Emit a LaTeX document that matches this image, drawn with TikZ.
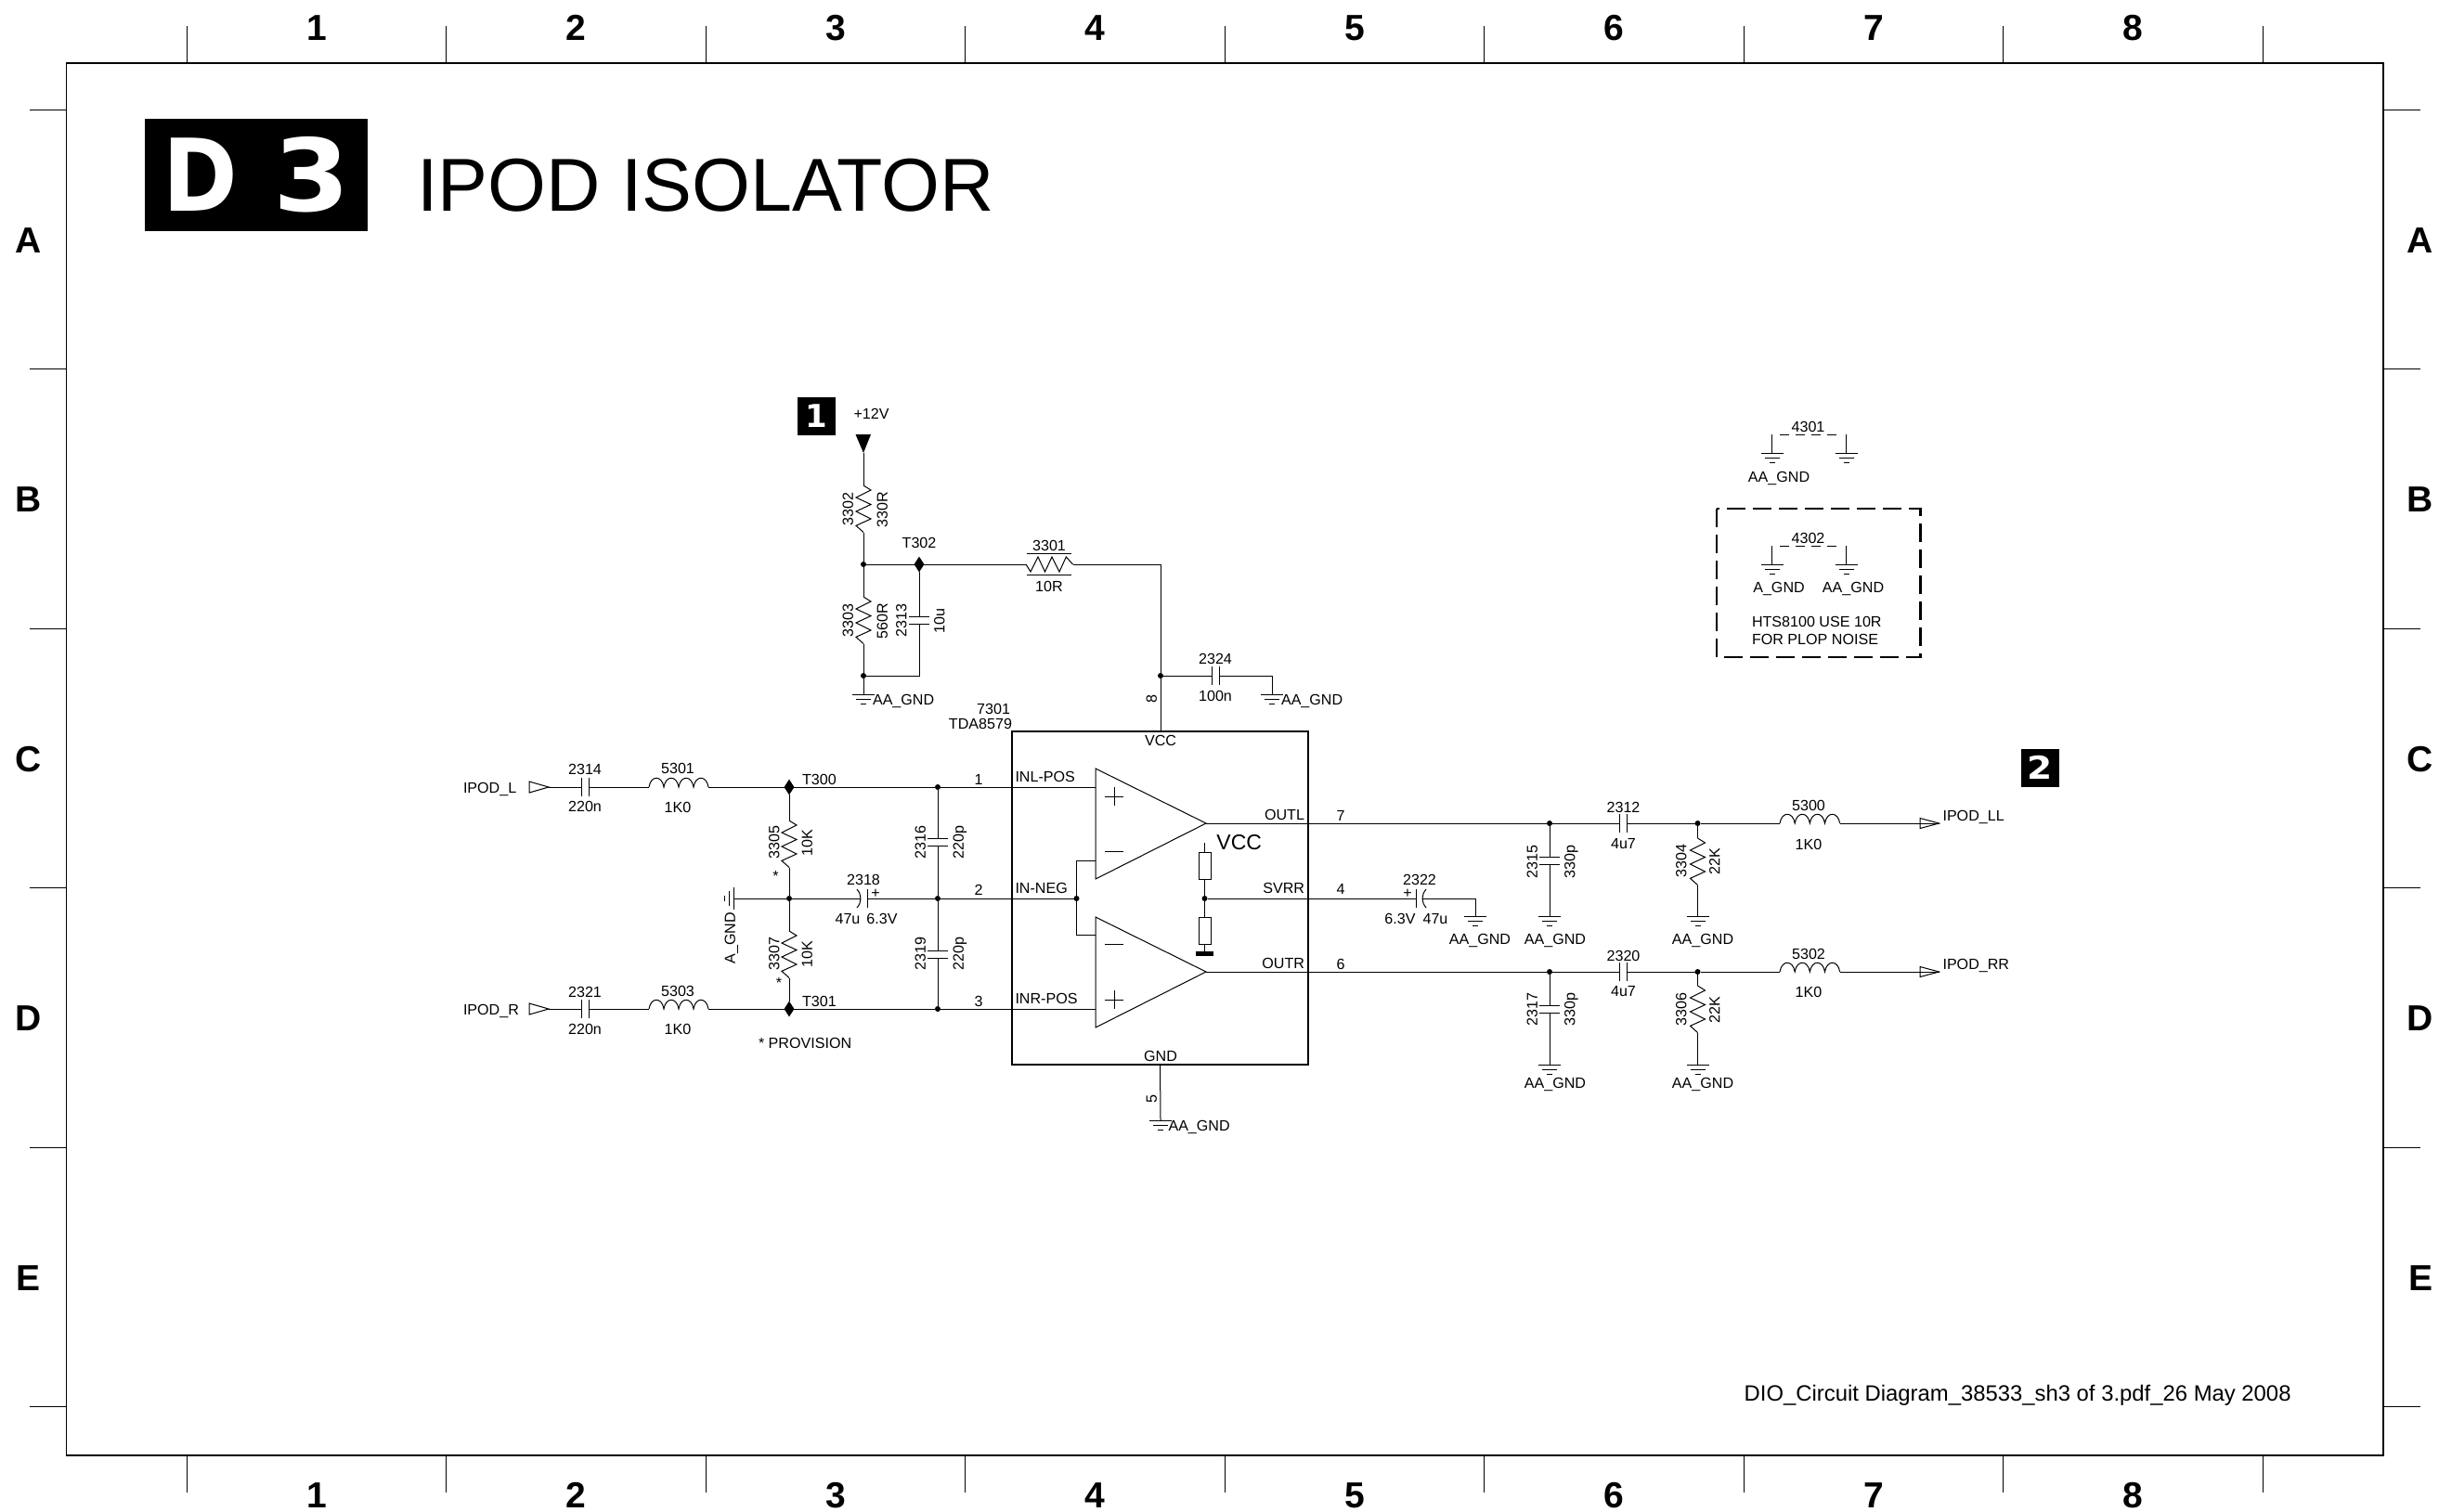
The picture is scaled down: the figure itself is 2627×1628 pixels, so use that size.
\documentclass[tikz,border=0pt]{standalone}
\usepackage{fontspec}
\setmainfont{Liberation Sans}
\newfontfamily\badgefont{DejaVu Sans}
\usetikzlibrary{shapes.geometric}
\newcommand\lab[5][]{\node[lbl,#1] (#2) at (#3,#4) {#5};}
\newcommand\dotat[3]{\node[jdot] (#1) at (#2,#3) {};}
\newcommand\diaat[3]{\node[jdia] (#1) at (#2,#3) {};}
\tikzset{
  wire/.style={line width=0.5pt,line join=miter},
  lbl/.style={inner sep=0pt,outer sep=0pt,yshift=-0.4pt,font=\fontsize{8.05}{9}\selectfont,text height=5.75pt,text depth=0pt,text=black},
  biglbl/.style={inner sep=0pt,outer sep=0pt,font=\bfseries\fontsize{19.5}{22}\selectfont,text height=14pt,text depth=0pt},
  jdot/.style={circle,fill=black,inner sep=0pt,minimum size=3pt,outer sep=0pt},
  jdia/.style={diamond,fill=black,inner sep=0pt,outer sep=0pt,aspect=1,minimum width=5.4pt,minimum height=8.4pt},
  zz/.pic={
    \coordinate (-a) at (0,0); \coordinate (-b) at (0,50.5);
    \draw[wire] (-a) -- ++(8,5) -- ++(-16,8) -- ++(16,7.5) -- ++(-16,7.5) -- ++(16,8) -- ++(-16,7.3) -- (-b);
  },
  capv/.pic={
    \coordinate (-a) at (0,-4); \coordinate (-b) at (0,4);
    \draw[wire] (-11,-4) -- (11,-4) (-11,4) -- (11,4);
  },
  caph/.pic={
    \coordinate (-a) at (-4,0); \coordinate (-b) at (4,0);
    \draw[wire] (-4,-10) -- (-4,10) (4,-10) -- (4,10);
  },
  elec/.pic={
    \coordinate (-a) at (-2,0); \coordinate (-b) at (5,0);
    \draw[wire] (-6,-10) .. controls (-0.7,-4) and (-0.7,4) .. (-6,10);
    \draw[wire] (5,-10) -- (5,10);
  },
  coil/.pic={
    \coordinate (-a) at (0,0); \coordinate (-b) at (64,0);
    \draw[wire] (-a) .. controls (2,-13) and (14,-13) .. (16,0)
      .. controls (18,-13) and (30,-13) .. (32,0)
      .. controls (34,-13) and (46,-13) .. (48,0)
      .. controls (50,-13) and (62,-13) .. (-b);
  },
  gnd/.pic={
    \coordinate (-a) at (0,0);
    \draw[wire] (-12,0) -- (12,0) (-8,5) -- (8,5) (-3,10) -- (3,10);
  },
  porti/.pic={
    \coordinate (-a) at (0,0); \coordinate (-b) at (21,0);
    \draw[wire] (0,-6) -- (21,0) -- (0,6) -- cycle;
  },
  porto/.pic={
    \coordinate (-a) at (0,0); \coordinate (-b) at (20.5,0);
    \draw[wire] (0,-5.5) -- (20.5,0) -- (0,5.5) -- cycle;
  },
}
\begin{document}
\begin{tikzpicture}[x=0.5pt,y=-0.5pt]
\useasboundingbox (0,0) rectangle (2627,1628);
\fill[white] (0,0) rectangle (2627,1628);

% frame
\draw[line width=0.9pt] (71.5,68) rectangle (2567,1568);
\foreach \k in {0,...,8}{
  \draw[wire] ({201+279.5*\k},28) -- ({201+279.5*\k},68);
  \draw[wire] ({201+279.5*\k},1568) -- ({201+279.5*\k},1608);
}
\foreach \k in {0,...,5}{
  \draw[wire] (31.5,{118+279.5*\k}) -- (71.5,{118+279.5*\k});
  \draw[wire] (2567,{118+279.5*\k}) -- (2607,{118+279.5*\k});
}
\foreach \n [count=\k from 0] in {1,...,8}{
  \node[biglbl] (top\n) at ({341+279.5*\k},29) {\n};
  \node[biglbl] (bot\n) at ({341+279.5*\k},1610) {\n};
}
\foreach \n [count=\k from 0] in {A,B,C,D,E}{
  \node[biglbl] (lft\n) at (31,{258+279.5*\k}) {\n};
  \node[biglbl] (rgt\n) at (2607,{258+279.5*\k}) {\n};
}

% title
\node[fill=black,inner sep=0pt,outer sep=0pt,minimum width=120pt,minimum height=60.5pt] (badge) at (276,188.5) {};
\node[inner sep=0pt,text=white,font=\badgefont\bfseries\fontsize{54}{60}\selectfont,text height=39.4pt,text depth=0pt] (badgeD) at (215.5,188.5) {\scalebox{0.9}[1]{D}};
\node[inner sep=0pt,text=white,font=\badgefont\bfseries\fontsize{54}{60}\selectfont,text height=39.4pt,text depth=0pt] (badgeT) at (336,188.5) {\scalebox{1.1}[1]{3}};
\node[anchor=base west,inner sep=0pt,font=\fontsize{40.4}{44}\selectfont] (title) at (449,227) {IPOD ISOLATOR};

% numbered boxes
\node[fill=black,inner sep=0pt,outer sep=0pt,minimum width=20.5pt,minimum height=20.5pt] (box1) at (879.5,448.5) {};
\node[inner sep=0pt,text=white,font=\badgefont\bfseries\fontsize{17}{20}\selectfont,text height=12.4pt,text depth=0pt] (box1t) at (879.5,448.5) {1};
\node[fill=black,inner sep=0pt,outer sep=0pt,minimum width=20.5pt,minimum height=20.5pt] (box2) at (2197.5,827.5) {};
\node[inner sep=0pt,text=white,font=\badgefont\bfseries\fontsize{17}{20}\selectfont,text height=12.4pt,text depth=0pt] (box2t) at (2197.5,827.5) {\scalebox{1.15}[1]{2}};

% chip
\node[draw,line width=1.25pt,inner sep=0pt,outer sep=0pt,minimum width=159.5pt,minimum height=179.5pt] (chip) at (1249.5,967.5) {};
\coordinate (A1p) at (1180,848); \coordinate (A1n) at (1180,927); \coordinate (A1o) at (1299,887);
\coordinate (A2n) at (1180,1007); \coordinate (A2p) at (1180,1087); \coordinate (A2o) at (1299,1047);
\draw[wire] (1180,828) -- (A1o) -- (1180,947) -- cycle;
\draw[wire] (1180,988) -- (A2o) -- (1180,1107) -- cycle;
\draw[wire] (1190,858) -- (1210,858) (1200,848) -- (1200,868) (1190,917) -- (1210,917);
\draw[wire] (1190,1017) -- (1210,1017) (1190,1077) -- (1210,1077) (1200,1067) -- (1200,1087);
\node[draw,wire,inner sep=0pt,outer sep=0pt,minimum width=6.5pt,minimum height=14.5pt] (Rb1) at (1297.5,932.5) {};
\node[draw,wire,inner sep=0pt,outer sep=0pt,minimum width=6.5pt,minimum height=14.5pt] (Rb2) at (1297.5,1002.5) {};
\node[fill=black,inner sep=0pt,outer sep=0pt,minimum width=9.5pt,minimum height=2.6pt] (Rbar) at (1297.5,1027.5) {};
\coordinate (Vtop) at (1297.5,908);
\dotat{Jr}{1297.5}{968}
\dotat{Jneg}{1159.5}{968}
\draw[wire] (Vtop) -- (Rb1.north) (Rb1.south) -- (Jr) -- (Rb2.north) (Rb2.south) -- (Rbar.north);
\draw[wire] (Jneg) |- (A1n);
\draw[wire] (Jneg) |- (A2n);

% chip texts
\lab{tVCC}{1250}{797}{VCC}
\lab{tGND}{1250}{1137}{GND}
\lab[anchor=west]{tINL}{1093.5}{836}{INL-POS}
\lab[anchor=west]{tINN}{1093.5}{956}{IN-NEG}
\lab[anchor=west]{tINR}{1093.5}{1075}{INR-POS}
\lab[anchor=east]{tOUTL}{1405}{877}{OUTL}
\lab[anchor=east]{tSVRR}{1405}{956}{SVRR}
\lab[anchor=east]{tOUTR}{1405}{1037}{OUTR}
\node[inner sep=0pt,anchor=west,font=\fontsize{11.5}{13}\selectfont,text height=8.2pt,text depth=0pt] (tVCCb) at (1310,907) {VCC};
\lab[anchor=east]{t7301}{1088}{763}{7301}
\lab[anchor=east]{tTDA}{1090}{779}{TDA8579}
\lab{pin1}{1054}{839}{1}
\lab{pin2}{1054}{958}{2}
\lab{pin3}{1054}{1078}{3}
\lab{pin7}{1444}{878}{7}
\lab{pin4}{1444}{957}{4}
\lab{pin6}{1444}{1038}{6}
\lab[rotate=90]{pin8}{1240}{752}{8}
\lab[rotate=90]{pin5}{1240}{1183}{5}

% left input, L channel
\pic (PL) at (570,848) {porti};
\pic (C2314) at (630,848) {caph};
\pic (L5301) at (699,848) {coil};
\diaat{T300}{850}{848}
\dotat{J1}{1010}{848}
\draw[wire] (PL-b) -- (C2314-a) (C2314-b) -- (L5301-a) (L5301-b) -- (T300) -- (J1) -- (A1p);
\lab[anchor=west]{tL}{499}{848}{IPOD\_L}
\lab{t2314}{630}{828}{2314}
\lab{t220a}{630}{868}{220n}
\lab{t5301}{730}{827}{5301}
\lab{t1k0a}{730}{869}{1K0}
\lab[anchor=west]{tT300}{864}{839}{T300}

% left input, R channel
\pic (PR) at (570,1087) {porti};
\pic (C2321) at (630,1087) {caph};
\pic (L5303) at (699,1087) {coil};
\diaat{T301}{850}{1087}
\dotat{J3}{1010}{1087}
\draw[wire] (PR-b) -- (C2321-a) (C2321-b) -- (L5303-a) (L5303-b) -- (T301) -- (J3) -- (A2p);
\lab[anchor=west]{tR}{499}{1087}{IPOD\_R}
\lab{t2321}{630}{1068}{2321}
\lab{t220b}{630}{1108}{220n}
\lab{t5303}{730}{1067}{5303}
\lab{t1k0b}{730}{1108}{1K0}
\lab[anchor=west]{tT301}{864}{1078}{T301}
\lab[anchor=west]{tPROV}{817}{1123}{* PROVISION}

% divider and bias
\pic (R3305) at (850,884) {zz};
\pic (R3307) at (850,1003) {zz};
\dotat{Jm}{850}{968}
\dotat{Jc}{1010}{968}
\pic[rotate=-90] (GA) at (790,968) {gnd};
\pic (C2318) at (929,968) {elec};
\draw[wire] (T300) -- (R3305-a) (R3305-b) -- (Jm) -- (R3307-a) (R3307-b) -- (T301);
\draw[wire] (GA-a) -- (Jm) -- (C2318-a) (C2318-b) -- (Jc) -- (Jneg);
\pic (C2316) at (1010,907.5) {capv};
\pic (C2319) at (1010,1028) {capv};
\draw[wire] (J1) -- (C2316-a) (C2316-b) -- (Jc) -- (C2319-a) (C2319-b) -- (J3);
\lab[rotate=90]{t3305}{833.5}{907}{3305}
\lab[rotate=90]{t10Ka}{869}{907}{10K}
\lab{tsta}{835.5}{943}{*}
\lab[rotate=90]{t3307}{833.5}{1027}{3307}
\lab[rotate=90]{t10Kb}{869}{1027}{10K}
\lab{tstb}{839}{1058}{*}
\lab[rotate=90]{tAGNDl}{786}{1010}{A\_GND}
\lab{t2318}{930}{947}{2318}
\lab{tpla}{943}{961}{+}
\lab{t47a}{913}{989}{47u}
\lab{t63a}{950}{989}{6.3V}
\lab[rotate=90]{t2316}{991}{907}{2316}
\lab[rotate=90]{t220c}{1032}{907}{220p}
\lab[rotate=90]{t2319}{991}{1027}{2319}
\lab[rotate=90]{t220d}{1032}{1027}{220p}

% supply
\coordinate (Vin) at (930,488);
\fill (921.5,468) -- (938,468) -- (Vin) -- cycle;
\lab[anchor=west]{t12V}{919.5}{445}{+12V}
\pic (R3302) at (930,523) {zz};
\pic (R3303) at (930,643) {zz};
\dotat{Jt}{930}{608}
\diaat{T302}{990}{608}
\dotat{Jb}{930}{728}
\coordinate (Jbr) at (990,728);
\pic (C2313) at (990,668) {capv};
\pic (GT) at (930,748) {gnd};
\pic[rotate=90,xscale=-1] (R3301) at (1105,608) {zz};
\coordinate (Cr) at (1250,608);
\dotat{J8}{1250}{728}
\draw[wire] (Vin) -- (R3302-a) (R3302-b) -- (Jt) -- (R3303-a) (R3303-b) -- (Jb) -- (GT-a);
\draw[wire] (Jt) -- (T302) -- (R3301-a) (R3301-b) -- (Cr) -- (J8) -- (J8 |- chip.north);
\draw[wire] (T302) -- (C2313-a) (C2313-b) -- (Jbr) -- (Jb);
\draw[wire] (1106,596) -- (1154,596) (1106,619) -- (1154,619);
\pic (C2324) at (1309.5,728) {caph};
\coordinate (Cg) at (1370,728);
\pic (GC) at (1370,748) {gnd};
\draw[wire] (J8) -- (C2324-a) (C2324-b) -- (Cg) -- (GC-a);
\lab[rotate=90]{t3302}{913}{548}{3302}
\lab[rotate=90]{t330R}{950}{548}{330R}
\lab[rotate=90]{t3303}{913}{668}{3303}
\lab[rotate=90]{t560R}{950}{668}{560R}
\lab[rotate=90]{t2313}{970.5}{668}{2313}
\lab[rotate=90]{t10u}{1011.5}{668}{10u}
\lab{tT302}{990}{584}{T302}
\lab{t3301}{1130}{587}{3301}
\lab{t10R}{1130}{631}{10R}
\lab{t2324}{1309}{709}{2324}
\lab{t100n}{1309}{749}{100n}
\lab[anchor=west]{tAAa}{940}{753}{AA\_GND}
\lab[anchor=west]{tAAb}{1380}{753}{AA\_GND}

% chip ground
\pic (GB) at (1250,1207) {gnd};
\draw[wire] (chip.south) -- (GB-a);
\lab[anchor=west]{tAAc}{1258.5}{1212}{AA\_GND}

% SVRR
\pic[xscale=-1] (C2322) at (1530,968) {elec};
\coordinate (Sc) at (1589,968);
\pic (GS) at (1589,987) {gnd};
\draw[wire] (Jr) -- (C2322-b) (C2322-a) -- (Sc) -- (GS-a);
\lab{t2322}{1529}{947}{2322}
\lab{tplb}{1516}{961}{+}
\lab{t63b}{1508}{989}{6.3V}
\lab{t47b}{1546}{989}{47u}
\lab{tAAd}{1594}{1011}{AA\_GND}

% L output
\dotat{J7}{1669}{887}
\dotat{J9}{1828.5}{887}
\pic (C2312) at (1748.5,887) {caph};
\pic[xscale=1.01] (L5300) at (1917,887) {coil};
\pic (PLL) at (2068,887) {porto};
\pic (C2315) at (1669,927.5) {capv};
\pic (G2315) at (1669,987) {gnd};
\pic (R3304) at (1828.5,903) {zz};
\pic (G3304) at (1828.5,987) {gnd};
\draw[wire] (A1o) -- (J7) -- (C2312-a) (C2312-b) -- (J9) -- (L5300-a) (L5300-b) -- (PLL-b);
\draw[wire] (J7) -- (C2315-a) (C2315-b) -- (G2315-a);
\draw[wire] (J9) -- (R3304-a) (R3304-b) -- (G3304-a);
\lab{t2312}{1748.5}{869}{2312}
\lab{t4u7a}{1748.5}{908}{4u7}
\lab{t5300}{1948}{867}{5300}
\lab{t1k0c}{1948}{909}{1K0}
\lab[anchor=west]{tLL}{2092.5}{878}{IPOD\_LL}
\lab[rotate=90]{t2315}{1650}{928}{2315}
\lab[rotate=90]{t330a}{1690.5}{928}{330p}
\lab[rotate=90]{t3304}{1810.5}{927}{3304}
\lab[rotate=90]{t22Ka}{1846.5}{927}{22K}
\lab{tAAe}{1675}{1011}{AA\_GND}
\lab{tAAf}{1834}{1011}{AA\_GND}

% R output
\dotat{J6}{1669}{1047}
\dotat{J10}{1828.5}{1047}
\pic (C2320) at (1748.5,1047) {caph};
\pic[xscale=1.01] (L5302) at (1917,1047) {coil};
\pic (PRR) at (2068,1047) {porto};
\pic (C2317) at (1669,1087) {capv};
\pic (G2317) at (1669,1147) {gnd};
\pic (R3306) at (1828.5,1062) {zz};
\pic (G3306) at (1828.5,1147) {gnd};
\draw[wire] (A2o) -- (J6) -- (C2320-a) (C2320-b) -- (J10) -- (L5302-a) (L5302-b) -- (PRR-b);
\draw[wire] (J6) -- (C2317-a) (C2317-b) -- (G2317-a);
\draw[wire] (J10) -- (R3306-a) (R3306-b) -- (G3306-a);
\lab{t2320}{1748.5}{1029}{2320}
\lab{t4u7b}{1748.5}{1067}{4u7}
\lab{t5302}{1948}{1027}{5302}
\lab{t1k0d}{1948}{1068}{1K0}
\lab[anchor=west]{tRR}{2092.5}{1038}{IPOD\_RR}
\lab[rotate=90]{t2317}{1650}{1087}{2317}
\lab[rotate=90]{t330b}{1690.5}{1087}{330p}
\lab[rotate=90]{t3306}{1810.5}{1087}{3306}
\lab[rotate=90]{t22Kb}{1846.5}{1087}{22K}
\lab{tAAg}{1675}{1166}{AA\_GND}
\lab{tAAh}{1834}{1166}{AA\_GND}

% 4301
\coordinate (a1) at (1908.5,468); \coordinate (a2) at (1988.5,468);
\coordinate (a3) at (1917,468); \coordinate (a4) at (1981,468);
\pic (G43a) at (1908.5,488) {gnd};
\pic (G43b) at (1988.5,488) {gnd};
\draw[wire] (a1) -- (G43a-a) (a2) -- (G43b-a);
\draw[wire,dash pattern=on 5pt off 3.5pt] (a3) -- (a4);
\lab{t4301}{1947.5}{459}{4301}
\lab{tAAi}{1916}{513}{AA\_GND}

% dashed box with 4302
\draw[line width=1.25pt,dash pattern=on 10pt off 4pt] (1849,548) rectangle (2068.5,708);
\coordinate (b1) at (1908.5,588); \coordinate (b2) at (1988.5,588);
\coordinate (b3) at (1917,588); \coordinate (b4) at (1981,588);
\pic (G44a) at (1908.5,608) {gnd};
\pic (G44b) at (1988.5,608) {gnd};
\draw[wire] (b1) -- (G44a-a) (b2) -- (G44b-a);
\draw[wire,dash pattern=on 5pt off 3.5pt] (b3) -- (b4);
\lab{t4302}{1947.5}{579}{4302}
\lab{tAGNDb}{1916}{632}{A\_GND}
\lab{tAAj}{1996}{632}{AA\_GND}
\lab[anchor=west]{tHTS}{1887}{669}{HTS8100 USE 10R}
\lab[anchor=west]{tFOR}{1887}{688}{FOR PLOP NOISE}

% footer
\node[anchor=east,inner sep=0pt,font=\fontsize{11.93}{14}\selectfont,text height=8.6pt,text depth=0pt] (foot) at (2468,1501) {DIO\_Circuit Diagram\_38533\_sh3 of 3.pdf\_26 May 2008};
\end{tikzpicture}
\end{document}
